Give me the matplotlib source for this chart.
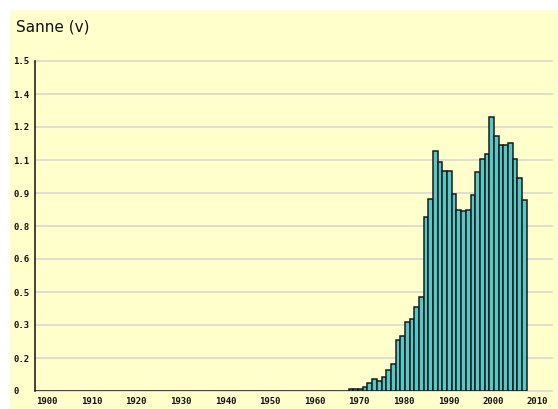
import matplotlib
matplotlib.use("Agg")
import matplotlib.pyplot as plt
from matplotlib.font_manager import FontProperties
import numpy as np

# ---- data ----
title = "Sanne (v)"
first_year = 1900
last_year = 2004
nonzero_start = 1967
values_nonzero = [0.008, 0.008, 0.009, 0.018, 0.036, 0.053, 0.047, 0.063, 0.097, 0.125,
                  0.234, 0.251, 0.312, 0.328, 0.384, 0.429, 0.791, 0.873, 1.093, 1.039,
                  0.999, 0.999, 0.895, 0.825, 0.818, 0.822, 0.889, 0.996, 1.056, 1.078,
                  1.244, 1.161, 1.118, 1.118, 1.127, 1.056, 0.966, 0.868]
xtick_labels = [str(y) for y in range(1900, 2011, 10)]
ytick_values = [i * 0.15 for i in range(11)]
ytick_labels = ['0', '0.2', '0.3', '0.5', '0.6', '0.8', '0.9', '1.1', '1.2', '1.4', '1.5']

years = np.arange(first_year, last_year + 1)
values = np.zeros(len(years))
values[nonzero_start - first_year:] = values_nonzero

# ---- style ----
W, H = 558, 409
bg_yellow = '#FFFFCC'
bar_color = '#55C8C8'
grid_color = '#D4D4D4'

fig = plt.figure(figsize=(W / 100, H / 100), dpi=100)
fig.patch.set_facecolor('white')

# yellow panel behind everything
bg_ax = fig.add_axes([10 / W, 0, 1 - 10 / W, 1 - 10 / H], zorder=-10)
bg_ax.set_facecolor(bg_yellow)
bg_ax.set_xticks([])
bg_ax.set_yticks([])
for s in bg_ax.spines.values():
    s.set_visible(False)

ax_left, ax_right, ax_top, ax_bottom = 35, 552, 61, 391
ax = fig.add_axes([ax_left / W, (H - ax_bottom) / H,
                   (ax_right - ax_left) / W, (ax_bottom - ax_top) / H], zorder=1)
ax.set_facecolor(bg_yellow)

px_per_year = 4.683
span = (ax_right - ax_left) / px_per_year
ax.set_xlim(first_year, first_year + span)
ax.set_ylim(0, 1.5)

ax.set_yticks(ytick_values)
ax.set_yticklabels(ytick_labels)
ax.yaxis.grid(True, color=grid_color, linewidth=1.1, zorder=0)
for gl in ax.get_ygridlines():
    gl.set_clip_on(False)
ax.set_axisbelow(True)

ax.bar(years, values, width=1.0, align='edge', color=bar_color,
       edgecolor='#1a1a1a', linewidth=1.1, zorder=3)

# x tick labels (evenly spaced label slots as in the reference)
label_first_px = 12.0
label_step_px = 44.6
xticks = [first_year + (label_first_px + label_step_px * i) / px_per_year
          for i in range(len(xtick_labels))]
ax.set_xticks(xticks)
ax.set_xticklabels(xtick_labels)

tick_font = FontProperties(family='DejaVu Sans Mono', weight='bold', size=6.5)
for lab in ax.get_xticklabels():
    lab.set_fontproperties(tick_font)
for lab in ax.get_yticklabels():
    lab.set_fontproperties(tick_font)
    lab.set_horizontalalignment('left')

ax.tick_params(axis='x', length=0, pad=4, colors='#111111')
ax.tick_params(axis='y', length=0, pad=22 / 1.389, colors='#111111')

for s in ['top', 'right', 'bottom']:
    ax.spines[s].set_visible(False)
ax.spines['left'].set_color('#222222')
ax.spines['left'].set_linewidth(1.2)

fig.text(16 / W, 1 - 27 / H, title, fontsize=11, family='DejaVu Sans',
         va='center', ha='left', color='#111111')

fig.savefig('out.png', dpi=100, facecolor=fig.get_facecolor())
